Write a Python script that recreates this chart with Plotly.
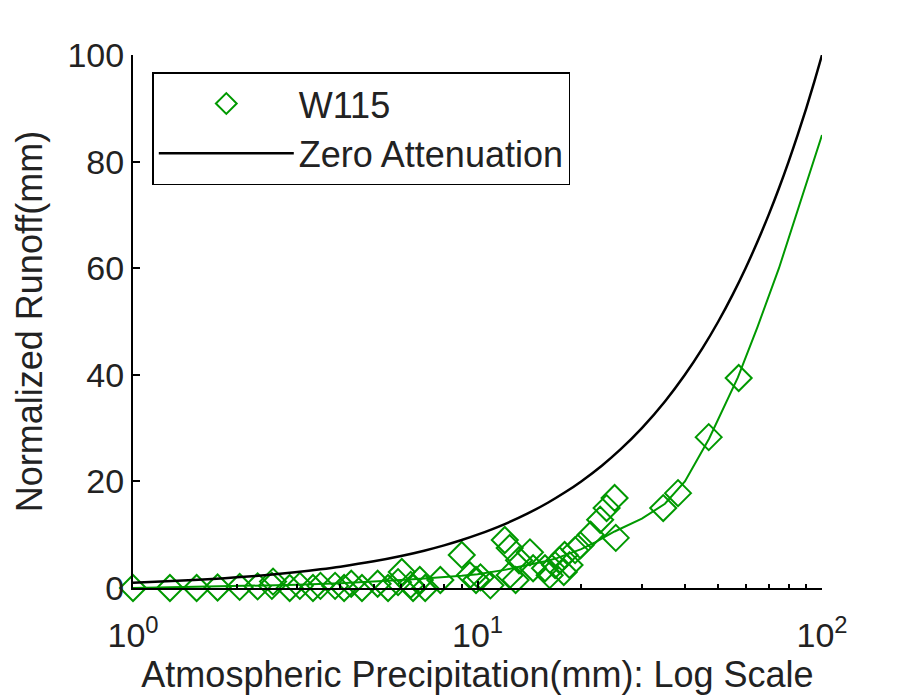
import plotly.graph_objects as go

# Observed events (W115)
precip = [1.0, 1.28, 1.53, 1.76, 2.04, 2.3, 2.53, 2.55, 2.85, 3.05, 3.33, 3.5, 3.86, 4.1,
          4.3, 4.62, 5.13, 5.5, 5.88, 6.03, 6.4, 6.5, 6.8, 7.05, 7.8, 9.0, 9.5, 9.9, 10.2,
          10.9, 12.0, 12.4, 12.4, 12.9, 13.2, 14.2, 14.5, 15.7, 16.2, 16.8, 17.3, 17.8,
          17.9, 18.5, 19.2, 19.9, 21.3, 22.7, 23.7, 25.0, 25.2, 34.6, 38.2, 46.9, 57.3]
runoff = [0, 0, 0, 0.1, 0.2, 0.3, 0.4, 1.2, 0, 0.4, 0, 0.4, 0.4, 0,
          0.8, 0, 0.8, 0, 1.1, 3.0, 0.6, 0, 1.5, 0, 1.5, 6.2, 2.4, 1.5, 2.0,
          0.5, 9.0, 7.5, 2.4, 1.5, 5.2, 6.7, 3.7, 3.7, 2.4, 4.3, 5.2, 3.0,
          6.2, 4.3, 7.1, 8.0, 10.0, 12.8, 15.0, 16.9, 9.4, 15.0, 17.8, 28.3, 39.4]

# Fitted curve (green line)
fit_x = [1, 2, 3, 4, 5, 6, 7, 8, 9, 10, 11, 12, 13, 14, 15, 16, 17, 18, 20, 22, 25,
         30, 35, 40, 47, 57, 65, 75, 85, 100]
fit_y = [0, 0.3, 0.6, 0.9, 1.2, 1.5, 1.8, 2.0, 2.3, 2.6, 3.0, 3.4, 3.9, 4.3, 4.7, 5.1,
         5.6, 6.2, 7.3, 8.6, 10.6, 13.0, 15.8, 20.0, 28.0, 39.5, 49.0, 60.0, 71.0, 85.0]

# Zero attenuation line (runoff equals precipitation)
zero_x = [1, 1.25, 1.5, 1.75, 2, 2.5, 3, 3.5, 4, 5, 6, 7, 8, 9, 10, 12, 14, 16, 18, 20,
          23, 26, 30, 35, 40, 45, 50, 55, 60, 65, 70, 75, 80, 85, 90, 95, 100]
zero_y = [1, 1.25, 1.5, 1.75, 2, 2.5, 3, 3.5, 4, 5, 6, 7, 8, 9, 10, 12, 14, 16, 18, 20,
          23, 26, 30, 35, 40, 45, 50, 55, 60, 65, 70, 75, 80, 85, 90, 95, 100]

x_tickvals = [1, 10, 100]
x_ticktext = ["10<sup>0</sup>", "10<sup>1</sup>", "10<sup>2</sup>"]
x_minor = [2, 3, 4, 5, 6, 7, 8, 9, 20, 30, 40, 50, 60, 70, 80, 90]
y_tickvals = [0, 20, 40, 60, 80, 100]

GREEN = "rgb(0,153,0)"
FONT = "Liberation Sans, Arial, Helvetica, sans-serif"

fig = go.Figure()
fig.add_trace(go.Scatter(x=fit_x, y=fit_y, mode="lines", line=dict(color=GREEN, width=2),
                         showlegend=False, cliponaxis=False, hoverinfo="skip"))
fig.add_trace(go.Scatter(x=precip, y=runoff, mode="markers", name="W115",
                         marker=dict(symbol="diamond-open", size=20, color=GREEN,
                                     line=dict(color=GREEN, width=2)),
                         cliponaxis=False))
fig.add_trace(go.Scatter(x=zero_x, y=zero_y, mode="lines", name="Zero Attenuation",
                         line=dict(color="black", width=2.5, shape="spline"),
                         cliponaxis=False))

fig.update_layout(
    width=904, height=698,
    margin=dict(l=133, r=82, t=55, b=110),
    paper_bgcolor="white", plot_bgcolor="white",
    font=dict(family=FONT, size=30, color="#222"),
    showlegend=True,
    legend=dict(x=0.028, y=0.968, xanchor="left", yanchor="top",
                bgcolor="white", bordercolor="black", borderwidth=1.5,
                font=dict(size=36), itemwidth=135, tracegroupgap=0),
    xaxis=dict(type="log", range=[0, 2], tickmode="array", tickvals=x_tickvals,
               ticktext=x_ticktext, ticks="inside", ticklen=7, tickwidth=1.5,
               tickcolor="black", showline=True, linecolor="black", linewidth=2,
               showgrid=False, zeroline=False, ticklabelstandoff=16,
               minor=dict(tickmode="array", tickvals=x_minor, ticks="inside",
                          ticklen=4, tickwidth=1.5, tickcolor="black", showgrid=False),
               title=dict(text="Atmospheric Precipitation(mm): Log Scale", standoff=4,
                          font=dict(size=36)),
               tickfont=dict(size=34)),
    yaxis=dict(range=[0, 100], tickmode="array", tickvals=y_tickvals,
               ticks="inside", ticklen=7, tickwidth=1.5, tickcolor="black",
               showline=True, linecolor="black", linewidth=2, showgrid=False,
               zeroline=False, title=dict(text="Normalized Runoff(mm)", standoff=14,
                                          font=dict(size=36)),
               tickfont=dict(size=34)),
)

fig.write_html("out.html")
